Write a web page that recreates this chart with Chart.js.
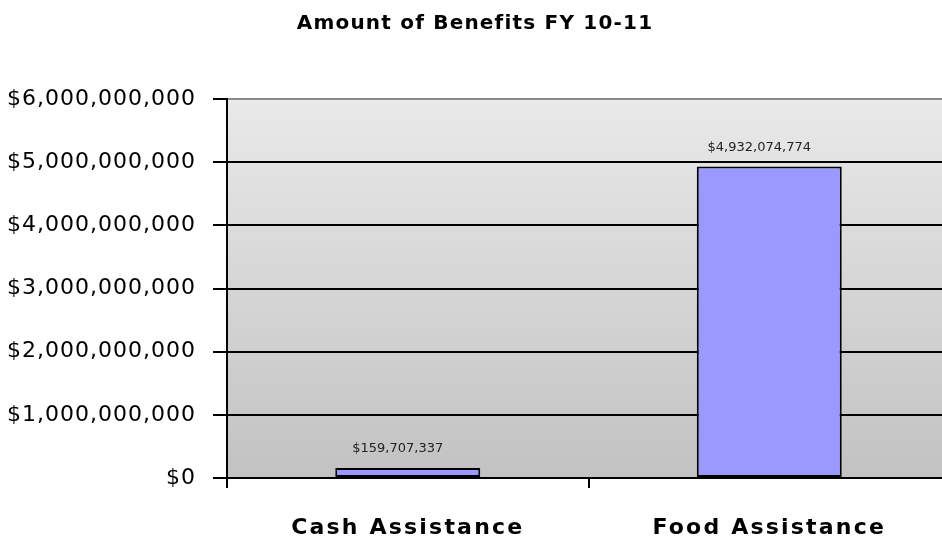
<!DOCTYPE html>
<html>
<head>
<meta charset="utf-8">
<script src="https://cdn.jsdelivr.net/npm/chart.js@4/dist/chart.umd.min.js"></script>
<style>
  html, body { margin: 0; padding: 0; background: #fff; }
  #wrap { width: 942px; height: 540px; overflow: hidden; }
</style>
</head>
<body>
<div id="wrap"><canvas id="benefitsChart" width="950" height="540"></canvas></div>
<script>
const categories = ["Cash Assistance", "Food Assistance"];
const amounts = [159707337, 4932074774];
const yTicks = [0, 1000000000, 2000000000, 3000000000, 4000000000, 5000000000, 6000000000];

function money(v) {
    return "$" + Math.round(v).toLocaleString("en-US");
}

// draw a scale's labels with some extra letter spacing
function spaceLabels(scale, px) {
    if (scale._spaced) return;
    const orig = scale.drawLabels.bind(scale);
    scale.drawLabels = (area) => {
        scale.ctx.save();
        scale.ctx.letterSpacing = px + "px";
        orig(area);
        scale.ctx.restore();
    };
    scale._spaced = true;
}

// grey gradient behind the plot area, plus spacing for the title text
const plotBackground = {
    id: "plotBackground",
    beforeDraw(chart) {
        const { ctx, chartArea: a } = chart;
        const g = ctx.createLinearGradient(0, a.top, 0, a.bottom);
        g.addColorStop(0, "#e9e9e9");
        g.addColorStop(1, "#c2c2c2");
        ctx.save();
        ctx.fillStyle = g;
        ctx.fillRect(a.left, a.top, a.right - a.left, a.bottom - a.top);
        ctx.restore();
        ctx.letterSpacing = "1.2px";
    },
    afterDraw(chart) {
        chart.ctx.letterSpacing = "0px";
    }
};

// value text above each bar
const valueLabels = {
    id: "valueLabels",
    afterDatasetsDraw(chart) {
        const ctx = chart.ctx;
        const meta = chart.getDatasetMeta(0);
        ctx.save();
        ctx.letterSpacing = "0px";
        ctx.font = "13px 'DejaVu Sans'";
        ctx.fillStyle = "#222";
        ctx.textAlign = "center";
        ctx.textBaseline = "middle";
        meta.data.forEach((bar, i) => {
            ctx.fillText(money(amounts[i]), bar.x - 10, bar.y - 19);
        });
        ctx.restore();
    }
};

new Chart(document.getElementById("benefitsChart"), {
    type: "bar",
    data: {
        labels: categories,
        datasets: [{
            data: amounts,
            backgroundColor: "#9999ff",
            borderColor: "#000",
            borderWidth: 2,
            borderSkipped: false,
            categoryPercentage: 1,
            barPercentage: 0.401
        }]
    },
    options: {
        responsive: false,
        animation: false,
        layout: { padding: 0 },
        plugins: {
            legend: { display: false },
            tooltip: { enabled: false },
            title: {
                display: true,
                text: "Amount of Benefits FY 10-11",
                color: "#000",
                font: { family: "'DejaVu Sans'", size: 20, weight: "bold" },
                padding: { top: 12, bottom: 63 }
            }
        },
        scales: {
            x: {
                offset: true,
                border: { color: "#000", width: 2 },
                grid: {
                    offset: true,
                    drawOnChartArea: false,
                    color: "#000",
                    lineWidth: 2,
                    tickLength: 10
                },
                ticks: {
                    color: "#000",
                    padding: 27,
                    font: { family: "'DejaVu Sans'", size: 22, weight: "bold" }
                },
                afterFit(scale) { scale.height = 62; },
                afterUpdate(scale) { spaceLabels(scale, 2.2); }
            },
            y: {
                min: 0,
                max: 6000000000,
                afterBuildTicks(scale) {
                    scale.ticks = yTicks.map(v => ({ value: v }));
                },
                border: { color: "#000", width: 2 },
                grid: {
                    color: ctx => ctx.tick && ctx.tick.value === 6000000000 ? "#8a8a8a" : "#000",
                    tickColor: "#000",
                    lineWidth: 2,
                    tickLength: 14
                },
                ticks: {
                    color: "#000",
                    padding: 17,
                    font: { family: "'DejaVu Sans'", size: 22 },
                    callback: v => money(v)
                },
                afterFit(scale) { scale.width = 227; },
                afterUpdate(scale) { spaceLabels(scale, 1); }
            }
        }
    },
    plugins: [plotBackground, valueLabels]
});
</script>
</body>
</html>
